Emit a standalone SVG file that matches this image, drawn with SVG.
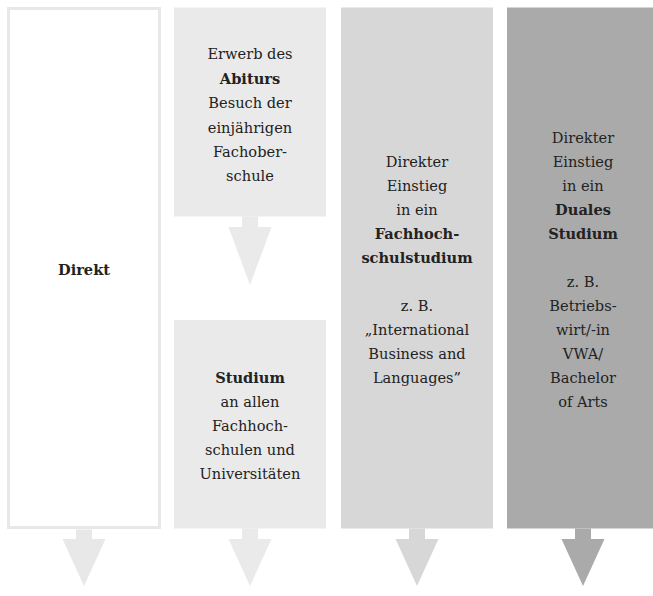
<svg xmlns="http://www.w3.org/2000/svg" width="653" height="596" viewBox="0 0 653 596">
<style>
text{font-family:"DejaVu Serif","Liberation Serif",serif;font-size:14.6px;fill:#222;text-anchor:middle}
.b{font-weight:bold}
</style>
<rect width="653" height="596" fill="#fff"/>
<g id="connectors">
<path d="M76 529.5H92V539H105.5L84 586L62.5 539H76Z" fill="#e8e8e8"/>
<path d="M242 216.5H258V227H271.5L250 285L228.5 227H242Z" fill="#eaeaea"/>
<path d="M242 528.5H258V539H271.5L250 586L228.5 539H242Z" fill="#eaeaea"/>
<path d="M409 528.5H425V539H438.5L417 586L395.5 539H409Z" fill="#d7d7d7"/>
<path d="M575 528.5H591V539H604.5L583 586L561.5 539H575Z" fill="#aaaaaa"/>
</g>
<g id="direkt">
<rect x="8.5" y="8.5" width="151" height="519" fill="#fff" stroke="#e8e8e8" stroke-width="3"/>
<text x="84" y="275" class="b">Direkt</text>
</g>
<g id="abitur">
<rect x="174" y="7.5" width="152" height="209" fill="#eaeaea"/>
<text x="250" y="59">Erwerb des</text>
<text x="250" y="83.5" class="b">Abiturs</text>
<text x="250" y="108">Besuch der</text>
<text x="250" y="132.5">einjährigen</text>
<text x="250" y="157">Fachober-</text>
<text x="250" y="181">schule</text>
</g>
<g id="studium">
<rect x="174" y="320" width="152" height="208.5" fill="#eaeaea"/>
<text x="250" y="383" class="b">Studium</text>
<text x="250" y="407">an allen</text>
<text x="250" y="431">Fachhoch-</text>
<text x="250" y="455">schulen und</text>
<text x="250" y="479">Universitäten</text>
</g>
<g id="fachhochschule">
<rect x="341" y="7.5" width="152" height="521" fill="#d7d7d7"/>
<text x="417" y="167">Direkter</text>
<text x="417" y="191">Einstieg</text>
<text x="417" y="215">in ein</text>
<text x="417" y="239" class="b">Fachhoch-</text>
<text x="417" y="263" class="b">schulstudium</text>
<text x="417" y="311">z. B.</text>
<text x="417" y="335">„International</text>
<text x="417" y="359">Business and</text>
<text x="417" y="383">Languages”</text>
</g>
<g id="duales">
<rect x="507" y="7.5" width="152" height="521" fill="#aaaaaa"/>
<text x="583" y="143">Direkter</text>
<text x="583" y="167">Einstieg</text>
<text x="583" y="191">in ein</text>
<text x="583" y="215" class="b">Duales</text>
<text x="583" y="239" class="b">Studium</text>
<text x="583" y="287">z. B.</text>
<text x="583" y="311">Betriebs-</text>
<text x="583" y="335">wirt/-in</text>
<text x="583" y="359">VWA/</text>
<text x="583" y="383">Bachelor</text>
<text x="583" y="407">of Arts</text>
</g>
</svg>
